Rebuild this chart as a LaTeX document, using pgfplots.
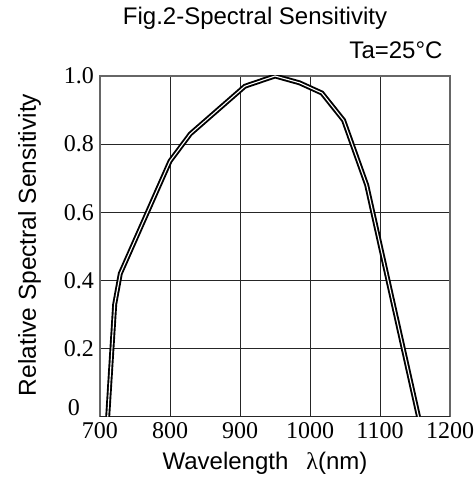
\documentclass[border=0pt]{standalone}
\usepackage{fontspec}
\setmainfont{Liberation Sans}
\newfontfamily\serif{Liberation Serif}
\usepackage{pgfplots}
\pgfplotsset{compat=1.18}

\begin{document}
\begin{tikzpicture}
 \useasboundingbox (-100pt,-62.3pt) rectangle (376pt,416.7pt);
 \begin{axis}[
  at={(0pt,0pt)}, anchor=south west,
  width=350pt, height=340.7pt, scale only axis,
  xmin=700, xmax=1200, ymin=0, ymax=1,
  xtick={700,800,900,1000,1100,1200},
  xticklabels={700,800,900,1000,1100,1200},
  ytick={0.2,0.4,0.6,0.8,1.0},
  yticklabels={0.2,0.4,0.6,0.8,1.0},
  extra y ticks={0},
  extra y tick labels={0},
  extra y tick style={yticklabel style={anchor=base east, xshift=-14pt, yshift=1pt}},
  major tick length=0pt,
  grid=major,
  grid style={black!85, line width=0.8pt},
  axis line style={black!60, line width=1.2pt},
  ticklabel style={font=\serif\fontsize{24}{26}\selectfont},
  /pgf/number format/assume math mode=true,
  yticklabel style={inner xsep=6pt},
  xticklabel style={inner ysep=6pt},
 ]
 \addplot[black, line width=1.9pt, double=white, double distance=1.1pt] coordinates {
  (711,0) (721,0.33) (729,0.42) (800,0.75) (829,0.83) (907,0.97)
  (950,1.0) (985,0.98) (1017,0.95) (1048,0.87) (1081,0.68) (1155,0)
 };
 \end{axis}
 \node[anchor=base, font=\fontsize{24}{27}\selectfont] at (155pt,391.7pt) {Fig.2-Spectral Sensitivity};
 \node[anchor=base east, font=\fontsize{24}{27}\selectfont] at (346pt,358pt) {Ta=25°C};
 \node[anchor=base, rotate=90, font=\fontsize{24.5}{27}\selectfont] at (-64pt,171.7pt) {Relative Spectral Sensitivity};
 \node[anchor=base, font=\fontsize{24}{27}\selectfont] at (165pt,-52.3pt) {Wavelength\hspace{0.75em}{\serif λ}(nm)};
\end{tikzpicture}
\end{document}
